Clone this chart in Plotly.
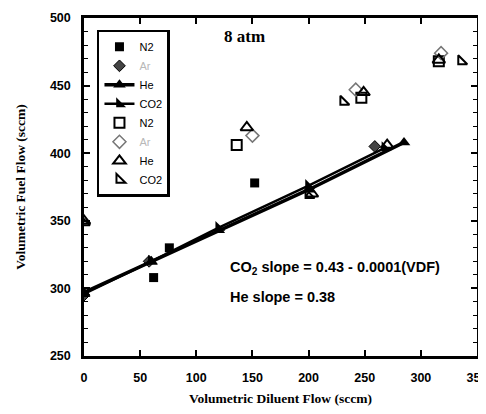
import plotly.graph_objects as go

# ---- data ----
he_fit_x = [0, 60, 120, 200, 285]
he_fit_y = [297, 320, 343, 373, 408]

co2_fit_x = [0, 60, 120, 200, 268]
co2_fit_y = [296, 320, 345, 376, 404]

n2_closed_x = [62, 76, 152]
n2_closed_y = [308, 330, 378]

ar_closed_x = [0, 58, 259]
ar_closed_y = [295, 320, 405]

n2_open_x = [68, 136, 247, 316]
n2_open_y = [378, 406, 441, 468]

ar_open_x = [65, 150, 242, 318]
ar_open_y = [381, 413, 447, 474]

he_open_x = [0, 145, 203, 249, 316, 270]
he_open_y = [350, 419, 370, 445, 469, 406]

co2_open_x = [0, 62, 231, 336, 200]
co2_open_y = [349, 382, 438, 468, 369]

x_ticks = [0, 50, 100, 150, 200, 250, 300, 350]
y_ticks = [250, 300, 350, 400, 450, 500]

AR = "<span style='color:#b8b8b8'>Ar</span>"

fig = go.Figure()

fig.add_trace(go.Scatter(x=n2_closed_x, y=n2_closed_y, mode="markers", name="N2",
                         marker=dict(symbol="square", size=9, color="black")))
fig.add_trace(go.Scatter(x=ar_closed_x, y=ar_closed_y, mode="markers", name=AR,
                         marker=dict(symbol="diamond", size=9, color="#444",
                                     line=dict(color="black", width=1))))
fig.add_trace(go.Scatter(x=he_fit_x, y=he_fit_y, mode="lines+markers", name="He",
                         line=dict(color="black", width=3.5),
                         marker=dict(symbol="triangle-up", size=11, color="black")))
fig.add_trace(go.Scatter(x=co2_fit_x, y=co2_fit_y, mode="lines+markers", name="CO2",
                         line=dict(color="black", width=2.5),
                         marker=dict(symbol="triangle-sw", size=11, color="black")))
fig.add_trace(go.Scatter(x=n2_open_x, y=n2_open_y, mode="markers", name="N2",
                         marker=dict(symbol="square-open", size=10, color="black",
                                     line=dict(width=2))))
fig.add_trace(go.Scatter(x=ar_open_x, y=ar_open_y, mode="markers", name=AR,
                         marker=dict(symbol="diamond-open", size=10, color="#777",
                                     line=dict(width=1.5))))
fig.add_trace(go.Scatter(x=he_open_x, y=he_open_y, mode="markers", name="He",
                         marker=dict(symbol="triangle-up-open", size=11, color="black",
                                     line=dict(width=2))))
fig.add_trace(go.Scatter(x=co2_open_x, y=co2_open_y, mode="markers", name="CO2",
                         marker=dict(symbol="triangle-sw-open", size=10, color="black",
                                     line=dict(width=2))))

fig.add_annotation(x=143, y=486, text="<b>8 atm</b>", showarrow=False, xanchor="center",
                   font=dict(family="Liberation Serif", size=17, color="black"))
fig.add_annotation(x=128, y=315, text="<b>CO<sub>2</sub> slope = 0.43 - 0.0001(VDF)</b>",
                   showarrow=False, xanchor="left",
                   font=dict(family="Liberation Sans", size=14.5, color="black"))
fig.add_annotation(x=128, y=294, text="<b>He slope = 0.38</b>", showarrow=False, xanchor="left",
                   font=dict(family="Liberation Sans", size=14.5, color="black"))

axis_common = dict(showgrid=False, zeroline=False, showline=True, linecolor="black",
                   linewidth=2.5, mirror="ticks", ticks="inside", tickcolor="black",
                   tickwidth=1.5, ticklen=6, automargin=False, ticklabelstandoff=8,
                   ticklabeloverflow="allow",
                   tickfont=dict(family="Liberation Sans", size=12.5, color="black"))

fig.update_xaxes(range=[0, 350], tickvals=x_ticks,
                 ticktext=["<b>%d</b>" % v for v in x_ticks],
                 title=dict(text="<b>Volumetric Diluent Flow (sccm)</b>", standoff=10,
                            font=dict(family="Liberation Serif", size=13.5, color="black")),
                 **axis_common)
fig.update_yaxes(range=[250, 500], tickvals=y_ticks,
                 ticktext=["<b>%d</b>" % v for v in y_ticks],
                 minor=dict(ticks="inside", dtick=10, ticklen=4, tickcolor="black", tickwidth=1),
                 title=dict(text="<b>Volumetric Fuel Flow (sccm)</b>", standoff=22,
                            font=dict(family="Liberation Serif", size=13.5, color="black")),
                 **axis_common)

fig.update_layout(
    width=478, height=406,
    margin=dict(l=76, r=9, t=10, b=58),
    plot_bgcolor="white", paper_bgcolor="white",
    showlegend=True,
    legend=dict(x=0.033, y=0.965, xanchor="left", yanchor="top",
                bgcolor="white", bordercolor="black", borderwidth=2.5,
                font=dict(family="Liberation Sans", size=11, color="black"),
                tracegroupgap=0, itemwidth=30),
)

fig.write_html("out.html")
